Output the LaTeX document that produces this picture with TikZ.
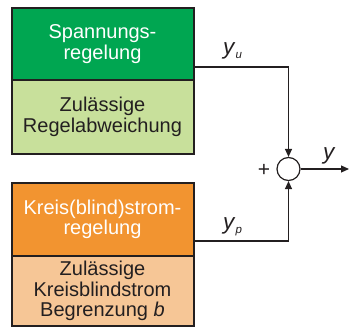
\documentclass[tikz,border=0pt]{standalone}
\usepackage{fontspec}
\setmainfont{Liberation Sans}
\usetikzlibrary{arrows.meta}
\definecolor{ctrlgreen}{RGB}{0,166,81}
\definecolor{limgreen}{RGB}{200,224,155}
\definecolor{ctrlorange}{RGB}{242,148,48}
\definecolor{limorange}{RGB}{246,198,150}
\definecolor{inkdark}{RGB}{35,31,32}
\newcommand{\sigvar}[1]{\textit{y}\raisebox{-4pt}{\fontsize{11.5}{11.5}\selectfont\itshape #1}}
\tikzset{
  blockbox/.style={draw=inkdark, line width=2pt, minimum width=182pt, inner sep=0pt,
    align=center, font=\fontsize{20}{20.5}\selectfont},
  sumjunction/.style={circle, draw=inkdark, line width=1.2pt, minimum size=23pt, inner sep=0pt},
  signal/.style={draw=inkdark, line width=1.2pt, -{Triangle[length=8pt,width=7pt]}},
  siglabel/.style={font=\fontsize{22.5}{22.5}\selectfont, text=inkdark, inner sep=0pt}
}
\begin{document}
\begin{tikzpicture}[x=1pt,y=-1pt]
  \useasboundingbox (0,0) rectangle (349,329);
  % upper pair: voltage control
  \node[blockbox, fill=ctrlgreen, text=white, minimum height=72pt] (volt) at (102.5,44)
    {Spannungs-\\regelung};
  \node[blockbox, fill=limgreen, text=inkdark, minimum height=74pt] (voltlim) at (102.5,117)
    {Zulässige\\Regelabweichung};
  % lower pair: circulating current control
  \node[blockbox, fill=ctrlorange, text=white, minimum height=73pt] (circ) at (102.5,219.5)
    {Kreis(blind)strom-\\regelung};
  \node[blockbox, fill=limorange, text=inkdark, minimum height=70pt] (circlim) at (102.5,291)
    {Zulässige\\Kreisblindstrom\\Begrenzung \textit{b}};
  % summing point and output
  \node[sumjunction] (sum) at (288.5,169) {};
  \coordinate (out) at (349,169);
  \draw[signal] ([yshift=-23pt]volt.east) -| (sum.north);
  \draw[signal] ([yshift=-21.5pt]circ.east) -| (sum.south);
  \draw[signal] (sum.east) -- (out);
  % labels
  \node[siglabel, anchor=base west] (lu) at (223,55) {\sigvar{u}};
  \node[siglabel, anchor=base west] (lp) at (223,230) {\sigvar{p}};
  \node[siglabel, anchor=base west] (ly) at (323,160) {\textit{y}};
  \node[siglabel, font=\fontsize{21}{21}\selectfont] (plus) at (264,170) {+};
\end{tikzpicture}
\end{document}
